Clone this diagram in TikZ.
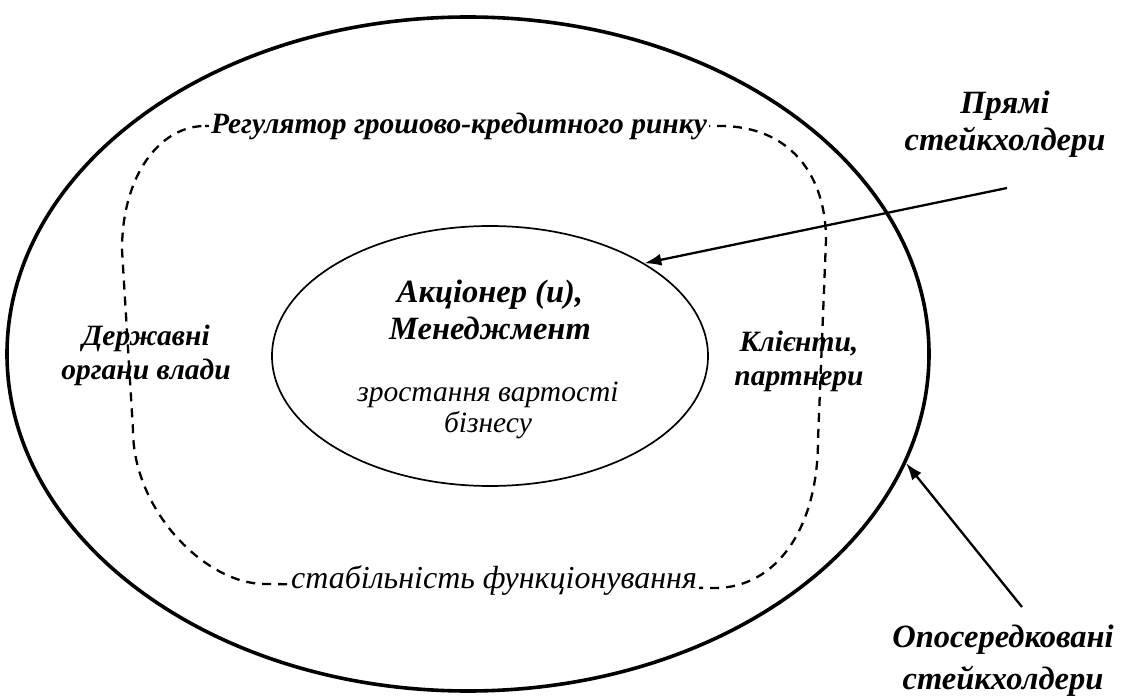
\documentclass[tikz,border=0pt]{standalone}
\usepackage{fontspec}
\setmainfont{Liberation Serif}
\usetikzlibrary{shapes.geometric,arrows.meta}
\tikzset{
  bigoval/.style={ellipse, draw, line width=3.6pt, inner sep=0pt, minimum width=922pt, minimum height=674pt},
  coreoval/.style={ellipse, draw, line width=1.7pt, inner sep=0pt, minimum width=436pt, minimum height=260pt},
  ringline/.style={line width=2.3pt, dash pattern=on 9pt off 7pt},
  bilabel/.style={align=center, inner sep=0pt, font=\bfseries\itshape\fontsize{32.5}{37}\selectfont},
  sidelabel/.style={align=center, inner sep=0pt, font=\bfseries\itshape\fontsize{29.5}{34}\selectfont},
  itlabel/.style={align=center, inner sep=0pt, font=\itshape\fontsize{29.5}{31}\selectfont},
  ringlabel/.style={fill=white, inner xsep=2pt, inner ysep=2pt},
  pointer/.style={line width=2.3pt, -{Latex[length=17pt,width=12pt]}},
}
\begin{document}
\begin{tikzpicture}[x=1pt,y=-1pt]
\useasboundingbox (0,0) rectangle (1124,700);

% outer oval
\node[bigoval] (outer) at (468,354) {};

% dashed ring
\draw[ringline] (205,126) -- (720,126)
  .. controls (790,126) and (826,175) .. (826,240)
  -- (818,440)
  .. controls (818,530) and (775,588) .. (715,588)
  -- (265,584)
  .. controls (205,584) and (133,510) .. (133,430)
  -- (122,250)
  .. controls (122,175) and (160,126) .. (205,126) -- cycle;

\node[ringlabel, font=\bfseries\itshape\fontsize{29.5}{32}\selectfont] (reg) at (459,126) {Регулятор грошово-кредитного ринку};
\node[ringlabel, font=\itshape\fontsize{32}{34}\selectfont] (stab) at (494,580) {стабільність функціонування};

% inner oval
\node[coreoval] (inner) at (490,356) {};
\node[bilabel] (owners) at (490,310) {Акціонер (и),\\Менеджмент};
\node[itlabel] (growth) at (488,410) {зростання вартості\\бізнесу};

% side labels
\node[sidelabel] (gov) at (146,355) {Державні\\органи влади};
\node[sidelabel] (clients) at (799,361) {Клієнти,\\партнери};

% outside labels
\node[bilabel] (direct) at (1005,124) {Прямі\\стейкхолдери};
\node[bilabel, font=\bfseries\itshape\fontsize{32.5}{42}\selectfont] (indirect) at (1003,661) {Опосередковані\\стейкхолдери};

\coordinate (dstart) at (1007,188);
\coordinate (istart) at (1022,607);
\draw[pointer] (dstart) -- (inner.31);
\draw[pointer] (istart) -- (outer.-14);
\end{tikzpicture}
\end{document}
